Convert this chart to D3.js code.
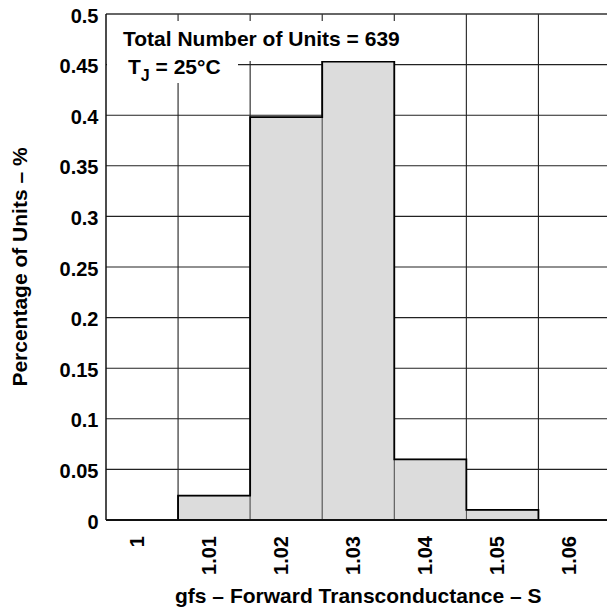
<!DOCTYPE html>
<html><head><meta charset="utf-8">
<script src="https://cdn.jsdelivr.net/npm/d3@7"></script>
<style>
body{margin:0;background:#fff;}
text{font-family:"Liberation Sans",Arial,Helvetica,sans-serif;font-weight:bold;fill:#000;}
</style></head>
<body><svg id="c" width="607" height="611"></svg>
<script>
const categories = ["1","1.01","1.02","1.03","1.04","1.05","1.06"];
const values = [0, 0.024, 0.398, 0.453, 0.06, 0.01, 0];
const yTicks = [0,0.05,0.1,0.15,0.2,0.25,0.3,0.35,0.4,0.45,0.5];
const yTickLabels = ["0","0.05","0.1","0.15","0.2","0.25","0.3","0.35","0.4","0.45","0.5"];
const titleLine1 = "Total Number of Units = 639";
const xTitle = "gfs – Forward Transconductance – S";
const yTitle = "Percentage of Units – %";

const svg = d3.select("#c");
const L = 106, R = 610.5, T = 14, B = 520;
const x = d3.scaleBand().domain(categories).range([L, R]).padding(0);
const y = d3.scaleLinear().domain([0, 0.5]).range([B, T]);

// gridlines
const g = svg.append("g");
g.selectAll("line.h").data(yTicks.filter(v => v > 0 && v < 0.5)).join("line")
  .attr("x1", L).attr("x2", R).attr("y1", d => y(d)).attr("y2", d => y(d))
  .attr("stroke", "#222").attr("stroke-width", 1.1);
const bounds = categories.slice(1).map(c => x(c));
g.selectAll("line.v").data(bounds).join("line")
  .attr("x1", d => d).attr("x2", d => d).attr("y1", T).attr("y2", B)
  .attr("stroke", "#222").attr("stroke-width", 1.1);

// bars
const data = categories.map((c, i) => ({c, v: values[i]}));
svg.append("g").selectAll("rect").data(data.filter(d => d.v > 0)).join("rect")
  .attr("x", d => x(d.c)).attr("width", x.bandwidth())
  .attr("y", d => y(d.v)).attr("height", d => B - y(d.v))
  .attr("fill", "#dcdcdc").attr("stroke", "#444").attr("stroke-width", 0.8);

// step outline
const pts = [];
data.forEach(d => {
  pts.push([x(d.c), y(d.v)]);
  pts.push([x(d.c) + x.bandwidth(), y(d.v)]);
});
svg.append("path").attr("d", d3.line()(pts)).attr("fill", "none")
  .attr("stroke", "#000").attr("stroke-width", 1.8);

// frame
svg.append("line").attr("x1", L).attr("x2", R).attr("y1", T).attr("y2", T).attr("stroke", "#333").attr("stroke-width", 1.5);
svg.append("line").attr("x1", L).attr("x2", L).attr("y1", T).attr("y2", B).attr("stroke", "#111").attr("stroke-width", 1.5);
svg.append("line").attr("x1", L).attr("x2", R).attr("y1", B).attr("y2", B).attr("stroke", "#111").attr("stroke-width", 1.8);
svg.append("line").attr("x1", R).attr("x2", R).attr("y1", T).attr("y2", B).attr("stroke", "#111").attr("stroke-width", 1.5);

// y tick labels
svg.append("g").selectAll("text").data(yTicks).join("text")
  .attr("x", 98.5).attr("y", d => y(d)).attr("dy", 8.5)
  .attr("text-anchor", "end").attr("font-size", 20)
  .text((d, i) => yTickLabels[i]);

// x tick labels
svg.append("g").selectAll("text").data(categories).join("text")
  .attr("transform", d => `translate(${x(d) + x.bandwidth()/2 + 2},536) rotate(-90)`)
  .attr("text-anchor", "end").attr("font-size", 20)
  .text(d => d);

// axis titles
svg.append("text").attr("x", (L + R) / 2).attr("y", 603).attr("text-anchor", "middle")
  .attr("font-size", 21).text(xTitle);
svg.append("text").attr("transform", `translate(27,${(T + B) / 2}) rotate(-90)`)
  .attr("text-anchor", "middle").attr("font-size", 21).text(yTitle);

// annotation boxes
svg.append("rect").attr("x", L + 1).attr("y", 21).attr("width", 290).attr("height", 40).attr("fill", "#fff");
svg.append("rect").attr("x", L + 1).attr("y", 50).attr("width", 131).attr("height", 33).attr("fill", "#fff");
svg.append("text").attr("x", 123).attr("y", 45.5).attr("font-size", 21).text(titleLine1);
const tj = svg.append("text").attr("x", 128).attr("y", 73.5).attr("font-size", 21);
tj.append("tspan").text("T");
tj.append("tspan").attr("dy", 7).attr("font-size", 16).text("J");
tj.append("tspan").attr("dy", -7).attr("font-size", 21).text(" = 25°C");
</script></body></html>
